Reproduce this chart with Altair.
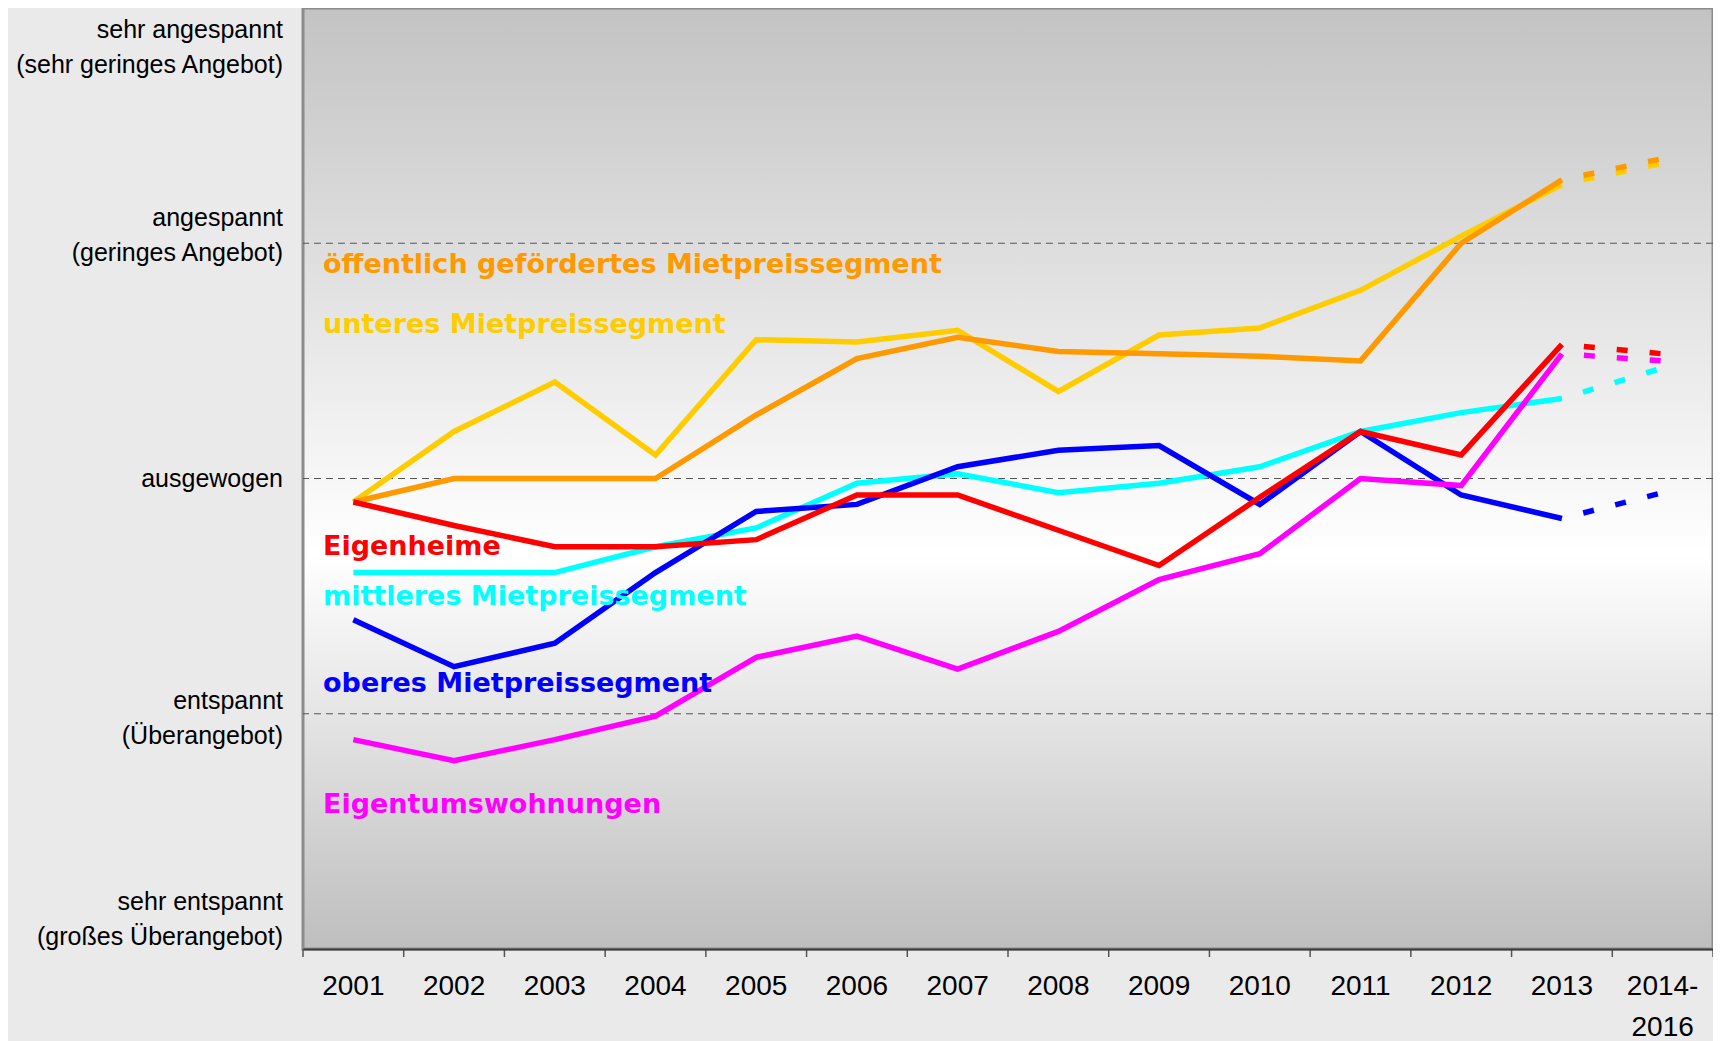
import altair as alt
import pandas as pd

# ---------------- data ----------------
categories = ["2001", "2002", "2003", "2004", "2005", "2006", "2007", "2008",
              "2009", "2010", "2011", "2012", "2013", "2014-2016"]

series_names = ["unteres Mietpreissegment",
                "öffentlich gefördertes Mietpreissegment",
                "mittleres Mietpreissegment",
                "oberes Mietpreissegment",
                "Eigenheime",
                "Eigentumswohnungen"]
series_colors = ["#FFCC00", "#FF9900", "#00FFFF", "#0000FF", "#FF0000", "#FF00FF"]

unteres = [2.90, 3.20, 3.41, 3.10, 3.59, 3.58, 3.63, 3.37, 3.61, 3.64, 3.80, 4.03, 4.25, 4.34]
oeffentlich = [2.90, 3.00, 3.00, 3.00, 3.27, 3.51, 3.60, 3.54, 3.53, 3.52, 3.50, 4.00, 4.27, 4.36]
mittleres = [2.60, 2.60, 2.60, 2.71, 2.79, 2.98, 3.02, 2.94, 2.98, 3.05, 3.20, 3.28, 3.34, 3.47]
oberes = [2.40, 2.20, 2.30, 2.60, 2.86, 2.89, 3.05, 3.12, 3.14, 2.89, 3.20, 2.93, 2.83, 2.94]
eigenheime = [2.90, 2.80, 2.71, 2.71, 2.74, 2.93, 2.93, 2.78, 2.63, 2.92, 3.20, 3.10, 3.57, 3.53]
eigentum = [1.89, 1.80, 1.89, 1.99, 2.24, 2.33, 2.19, 2.35, 2.57, 2.68, 3.00, 2.97, 3.53, 3.50]
series_values = [unteres, oeffentlich, mittleres, oberes, eigenheime, eigentum]

# in-plot series labels (text, colour, baseline anchor on the value axis)
label_texts = ["öffentlich gefördertes Mietpreissegment", "unteres Mietpreissegment",
               "Eigenheime", "mittleres Mietpreissegment",
               "oberes Mietpreissegment", "Eigentumswohnungen"]
label_colors = ["#FF9900", "#FFCC00", "#FF0000", "#00FFFF", "#0000FF", "#FF00FF"]
label_anchor = [3.874, 3.618, 2.675, 2.462, 2.091, 1.577]

# value-axis levels
levels = [5, 4, 3, 2, 1]
level_labels = ["sehr angespannt\n(sehr geringes Angebot)",
                "angespannt\n(geringes Angebot)",
                "ausgewogen",
                "entspannt\n(Überangebot)",
                "sehr entspannt\n(großes Überangebot)"]
level_dy = [22, -25, 0, -13, -47]
grid_levels = [2, 3, 4]

# ---------------- chart ----------------
W, H = 1410, 941

xscale = alt.Scale(type="band", domain=categories, paddingInner=0, paddingOuter=0)
yscale = alt.Scale(domain=[1, 5], nice=False, zero=False)
xaxis = alt.Axis(title=None, ticks=False, tickSize=0, grid=False, domain=True,
                 domainColor="#3C3C3C", domainWidth=2, labelAngle=0,
                 labelFont="Liberation Sans", labelFontSize=28, labelColor="#000000",
                 labelBaseline="alphabetic", labelPadding=45, labelLineHeight=41,
                 labelOverlap=False,
                 labelExpr="datum.value == '2014-2016' ? ['2014-', '2016'] : datum.value",
                 zindex=1)

layers = []

bg = alt.Chart(pd.DataFrame({"a": [0]})).mark_rect(
    fill={"gradient": "linear", "x1": 0, "y1": 0, "x2": 0, "y2": 1,
          "stops": [{"offset": 0, "color": "#C3C3C3"},
                    {"offset": 0.58, "color": "#FFFFFF"},
                    {"offset": 1, "color": "#BEBEBE"}]},
    stroke="#8C8C8C", strokeWidth=3
).encode(x=alt.value(0), x2=alt.value(W), y=alt.value(0), y2=alt.value(H))
layers.append(bg)

grid = alt.Chart(pd.DataFrame({"level": grid_levels})).mark_rule(
    color="#555555", strokeWidth=1, strokeDash=[7, 5]
).encode(y=alt.Y("level:Q", scale=yscale, axis=None))
layers.append(grid)

ticks = alt.Chart(pd.DataFrame({"cat": categories})).mark_rule(
    color="#555555", strokeWidth=1.5
).encode(x=alt.X("cat:N", scale=xscale, axis=xaxis, bandPosition=0),
         y=alt.value(H), y2=alt.value(H + 8))
layers.append(ticks)
ticks_end = alt.Chart(pd.DataFrame({"cat": categories[-1:]})).mark_rule(
    color="#555555", strokeWidth=1.5
).encode(x=alt.X("cat:N", scale=xscale, axis=xaxis, bandPosition=1),
         y=alt.value(H), y2=alt.value(H + 8))
layers.append(ticks_end)

for name, color, vals in zip(series_names, series_colors, series_values):
    df = pd.DataFrame({"cat": categories, "value": vals, "series": name})
    solid = alt.Chart(df.iloc[:-1]).mark_line(
        color=color, strokeWidth=5.5, strokeJoin="miter", strokeCap="butt"
    ).encode(x=alt.X("cat:N", scale=xscale, axis=xaxis, bandPosition=0.5),
             y=alt.Y("value:Q", scale=yscale, axis=None))
    dashed = alt.Chart(df.iloc[-2:]).mark_line(
        color=color, strokeWidth=5.5, strokeDash=[11, 22], strokeDashOffset=11,
        strokeCap="butt"
    ).encode(x=alt.X("cat:N", scale=xscale, axis=xaxis, bandPosition=0.5),
             y=alt.Y("value:Q", scale=yscale, axis=None))
    layers += [solid, dashed]

for txt, color, anchor in zip(label_texts, label_colors, label_anchor):
    t = alt.Chart(pd.DataFrame({"label": [txt], "pos": [anchor]})).mark_text(
        align="left", baseline="alphabetic", font="DejaVu Sans", fontWeight="bold",
        fontSize=27, color=color
    ).encode(x=alt.value(20), y=alt.Y("pos:Q", scale=yscale, axis=None), text="label:N")
    layers.append(t)

for lvl, txt, dy in zip(levels, level_labels, level_dy):
    t = alt.Chart(pd.DataFrame({"level": [lvl], "label": [txt]})).mark_text(
        align="right", baseline="middle", dy=dy, lineBreak="\n", lineHeight=35,
        font="Liberation Sans", fontSize=25, color="#000000"
    ).encode(x=alt.value(-20), y=alt.Y("level:Q", scale=yscale, axis=None), text="label:N")
    layers.append(t)

chart = alt.layer(*layers).properties(
    width=W, height=H,
    autosize=alt.AutoSizeParams(type="none"),
    padding={"left": 295, "top": 0, "right": 0, "bottom": 92},
).configure(background="#EAEAEA").configure_view(stroke=None)

chart.save("out.html", embed_options={"renderer": "svg", "actions": False})
